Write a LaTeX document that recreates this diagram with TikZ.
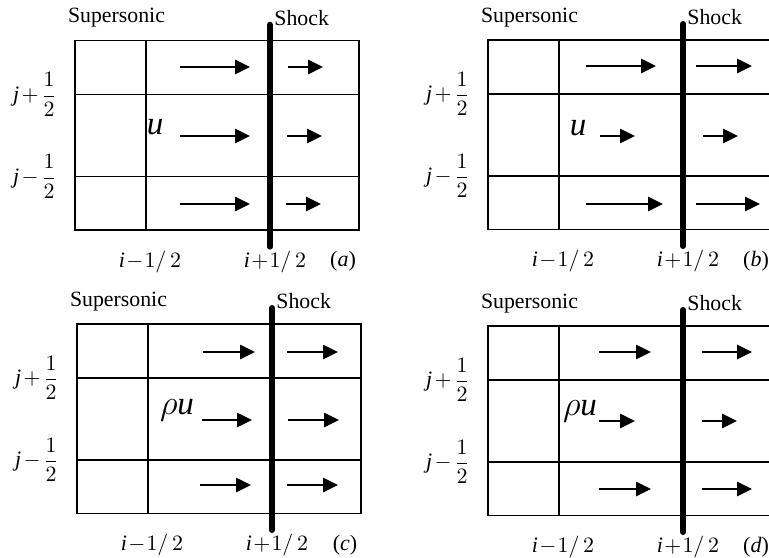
\documentclass[tikz,border=0pt]{standalone}
\usepackage{amsmath}
\usepackage{fontspec}
\setmainfont{Liberation Serif}
\usetikzlibrary{arrows.meta}

\begin{document}
\begin{tikzpicture}[x=0.5pt, y=-0.5pt,
    grid/.style={line width=0.75pt},
    shockline/.style={line width=3pt, line cap=round},
    flow/.style={line width=1.3pt, -{Triangle[length=7.5pt, width=7pt]}},
    lbl/.style={inner sep=0pt, font=\fontsize{10.9}{13}\selectfont},
    idx/.style={inner sep=0pt, font=\fontsize{11}{12}\selectfont},
    var/.style={inner sep=0pt, font=\fontsize{16.5}{19}\selectfont}]

    \useasboundingbox (0,0) rectangle (769,557);
    \clip (0,0) rectangle (769,557);

    % the four cell frames with the shock
    \foreach \px/\py/\tg in {75/40.7/a, 488/40/b, 77/324/c, 488/326/d}{
        \begin{scope}[shift={(\px,\py)}]
            \draw[grid] (0,0) rectangle (284,189.5);
            \draw[grid] (71,0) -- (71,189.5);
            \draw[grid] (0,54) -- (284,54) (0,136) -- (284,136);
            \draw[shockline] (195,-16) -- (195,206);

            \node[lbl] (sup-\tg) at (41.5,-22.7) {Supersonic};
            \node[lbl, anchor=west] (shk-\tg) at (199,-22.7) {Shock};
            \node[idx] (jp-\tg) at (-40,54) {$\mathit{j}\mkern2mu{+}\mkern2mu\dfrac{1}{2}$};
            \node[idx] (jm-\tg) at (-40,136) {$\mathit{j}\mkern2mu{-}\mkern2mu\dfrac{1}{2}$};
            \node[idx] (im-\tg) at (75,221) {$\mathit{i}\mkern1mu{-}\mkern1mu1/\,2$};
            \node[idx] (ip-\tg) at (200,221) {$\mathit{i}\mkern1mu{+}\mkern1mu1/\,2$};
            \node[idx] (tag-\tg) at (268,221) {($\mathit{\tg}$)};
        \end{scope}
    }

    % (a)
    \foreach \xa/\xb/\y in {180/250/67, 288/323/67, 180/250/136, 287/322/136, 180/250/204, 286/321/204}
        \draw[flow] (\xa,\y) -- (\xb,\y);
    \node[var] (var-a) at (155,127) {$\mathit{u}$};

    % (b)
    \foreach \xa/\xb/\y in {586/656/66, 696/752/66, 600/635/136, 703/738/136, 586/663/204, 696/760/204}
        \draw[flow] (\xa,\y) -- (\xb,\y);
    \node[var] (var-b) at (578,128) {$\mathit{u}$};

    % (c)
    \foreach \xa/\xb/\y in {203/255/352, 287/338/352, 202/252/420, 288/339/420, 200/251/485, 287/338/485}
        \draw[flow] (\xa,\y) -- (\xb,\y);
    \node[var] (var-c) at (177,410) {$\rho\mathit{u}$};

    % (d)
    \foreach \xa/\xb/\y in {599/651/352, 702/752/352, 599/635/421, 702/737/421, 599/651/489, 702/752/489}
        \draw[flow] (\xa,\y) -- (\xb,\y);
    \node[var] (var-d) at (580,411) {$\rho\mathit{u}$};

\end{tikzpicture}
\end{document}
